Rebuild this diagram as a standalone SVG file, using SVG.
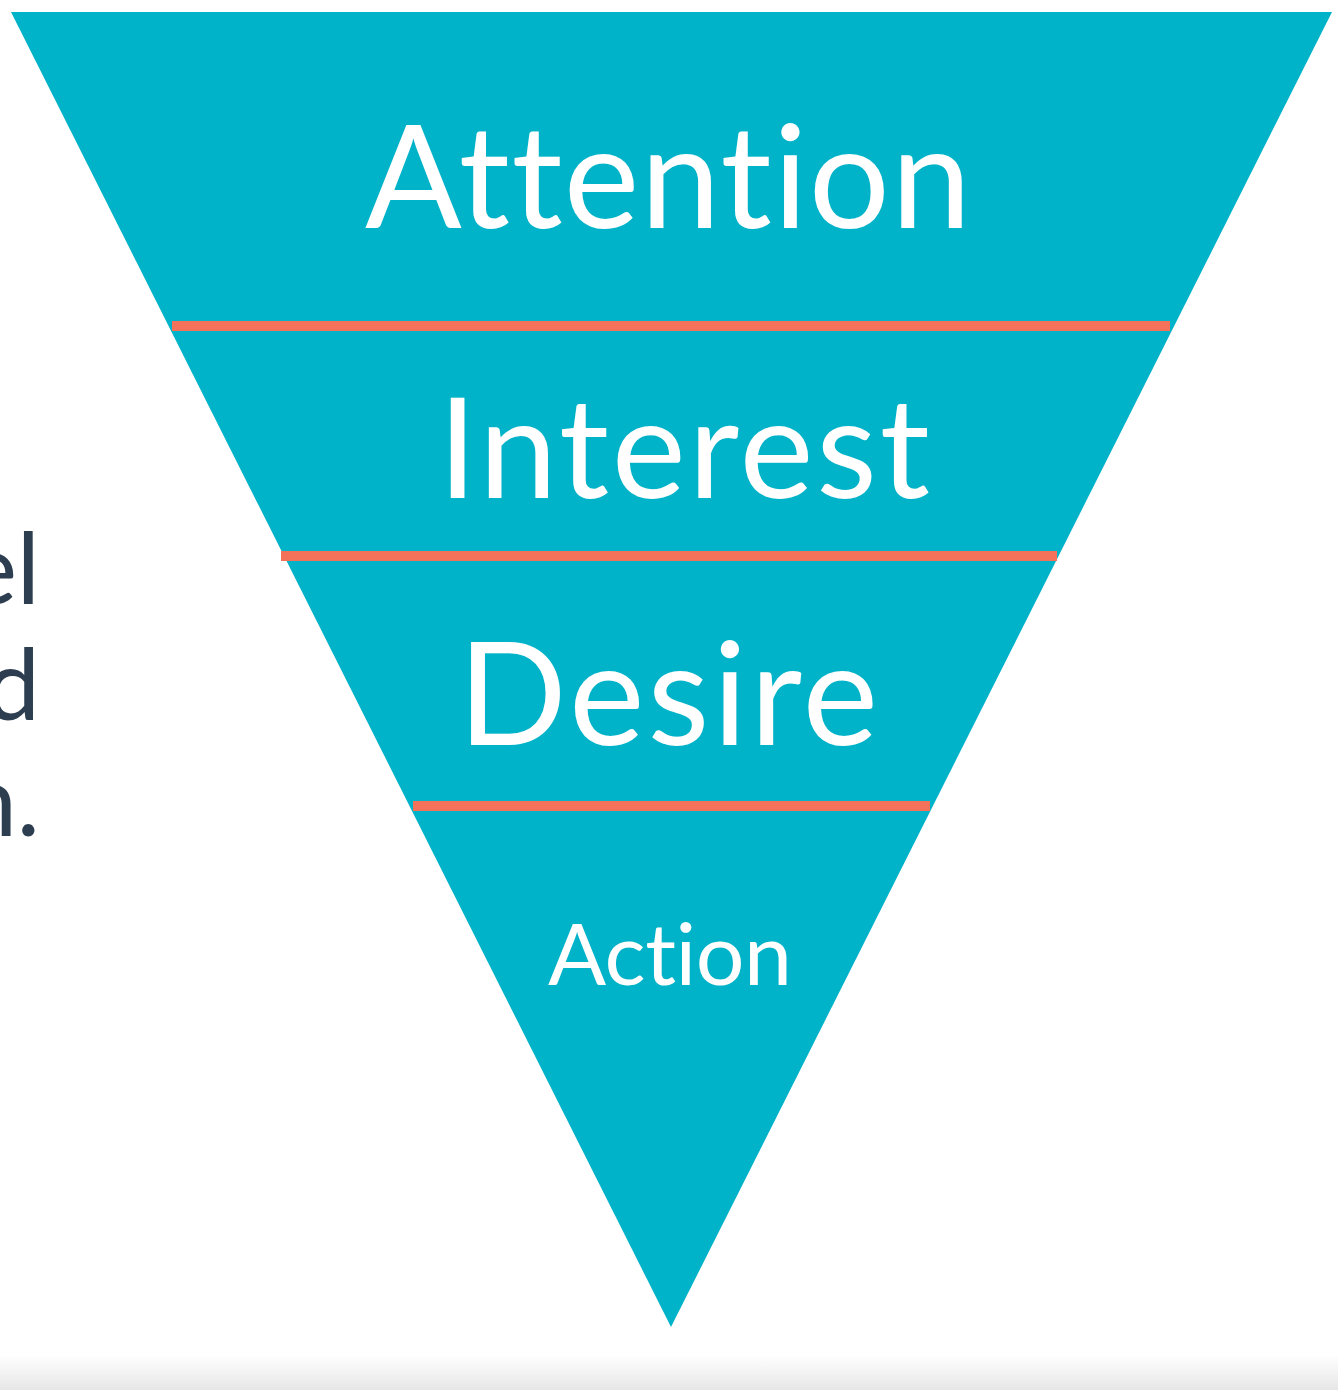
<svg xmlns="http://www.w3.org/2000/svg" width="1338" height="1390" viewBox="0 0 1338 1390">
<defs>
<linearGradient id="bg" x1="0" y1="0" x2="0" y2="1">
<stop offset="0" stop-color="#ffffff"/>
<stop offset="1" stop-color="#e6e6e6"/>
</linearGradient>
<style>
.lbl{font-family:Lato,"Open Sans","Liberation Sans",sans-serif;fill:#ffffff;text-anchor:middle;font-variant-ligatures:none;font-feature-settings:"liga" 0;}
.side{font-family:Lato,"Open Sans","Liberation Sans",sans-serif;fill:#2d3e50;text-anchor:end;font-size:98px;}
.sep{stroke:#f4725a;stroke-width:10;}
</style>
</defs>
<rect width="1338" height="1390" fill="#ffffff"/>
<rect x="0" y="1355" width="1338" height="35" fill="url(#bg)"/>
<g id="side-text">
<text class="side" x="40" y="604">el</text>
<text class="side" x="40" y="720">d</text>
<text class="side" x="40" y="836">n.</text>
</g>
<g id="funnel">
<polygon points="11,12 1332,12 671,1327" fill="#00b3c9"/>
</g>
<g id="connectors">
<line class="sep" x1="172" y1="326" x2="1170" y2="326"/>
<line class="sep" x1="281" y1="556" x2="1057" y2="556"/>
<line class="sep" x1="413" y1="806" x2="930" y2="806"/>
</g>
<g id="attention"><text class="lbl" x="668" y="228" font-size="143" textLength="606" lengthAdjust="spacing">Attention</text></g>
<g id="interest"><text class="lbl" x="684" y="498" font-size="140" textLength="492" lengthAdjust="spacing">Interest</text></g>
<g id="desire"><text class="lbl" x="668" y="745" font-size="143" textLength="420" lengthAdjust="spacing">Desire</text></g>
<g id="action"><text class="lbl" x="670" y="985" font-size="86" textLength="244" lengthAdjust="spacing">Action</text></g>
</svg>
